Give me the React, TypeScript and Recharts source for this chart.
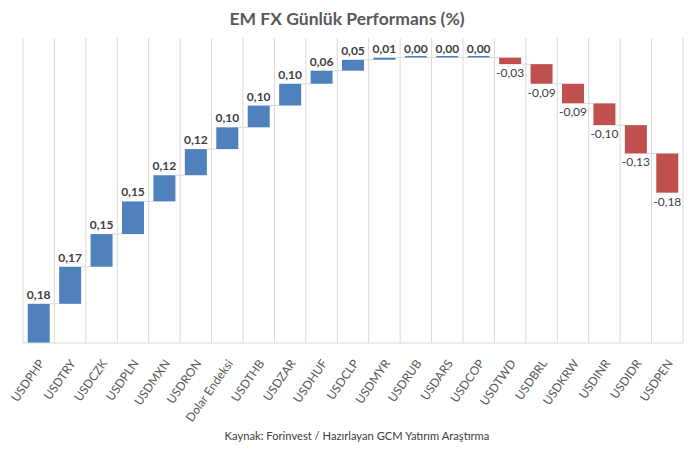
import React from 'react';
import { BarChart, Bar, XAxis, YAxis, CartesianGrid, LabelList } from 'recharts';

const categories = [
  'USDPHP', 'USDTRY', 'USDCZK', 'USDPLN', 'USDMXN', 'USDRON', 'Dolar Endeksi',
  'USDTHB', 'USDZAR', 'USDHUF', 'USDCLP', 'USDMYR', 'USDRUB', 'USDARS',
  'USDCOP', 'USDTWD', 'USDBRL', 'USDKRW', 'USDINR', 'USDIDR', 'USDPEN',
];
const values = [
  0.18, 0.17, 0.15, 0.15, 0.12, 0.12, 0.10, 0.10, 0.10, 0.06, 0.05, 0.01,
  0.0, 0.0, 0.0, -0.03, -0.09, -0.09, -0.10, -0.13, -0.18,
];
const yTicks = [0, 0.2, 0.4, 0.6, 0.8, 1.0, 1.2, 1.4];

const BLUE = '#4F81BD';
const RED = '#C0504D';
const GRID = '#D9D9D9';
const FONT = 'Lato, "Open Sans", sans-serif';

// waterfall: invisible base + visible step
let running = 0;
const data = categories.map((name, i) => {
  const v = values[i];
  const base = v >= 0 ? running : running + v;
  running += v;
  return { name, value: v, base, delta: Math.abs(v) };
});

const fmt = (v: number) => v.toFixed(2).replace('.', ',');

const StepBar = (props: any) => {
  const { x, y, width, height, index } = props;
  const v = values[index];
  const h = Math.max(height, 1.6);
  const ry = v >= 0 ? y + height - h : y;
  const gap = (width * 0.3) / 0.7;
  const level = v >= 0 ? y : y + height;
  return (
    <g>
      <rect x={x} y={ry} width={width} height={h} fill={v >= 0 ? BLUE : RED} />
      {index < values.length - 1 && (
        <line x1={x + width} x2={x + width + gap} y1={level} y2={level} stroke={GRID} strokeWidth={1} />
      )}
    </g>
  );
};

const StepLabel = (props: any) => {
  const { x, y, width, height, index } = props;
  const v = values[index];
  const cx = x + width / 2;
  if (v >= 0) {
    return (
      <text x={cx} y={y - 5} textAnchor="middle" fontSize={12} fontWeight={700} fill="#404040" fontFamily={FONT}>
        {fmt(v)}
      </text>
    );
  }
  return (
    <text x={cx} y={y + height + 13} textAnchor="middle" fontSize={12} fill="#404040" fontFamily={FONT}>
      {fmt(v)}
    </text>
  );
};

const AxisTick = (props: any) => {
  const { x, y, payload } = props;
  const ax = x + 3;
  const ay = y + 10;
  return (
    <text
      x={ax}
      y={ay}
      dy={4}
      textAnchor="end"
      transform={`rotate(-55 ${ax} ${ay})`}
      fontSize={12}
      fill="#595959"
      fontFamily={FONT}
    >
      {payload.value}
    </text>
  );
};

export default function App() {
  return (
    <div style={{ position: 'relative', width: 694, height: 455, margin: -8, background: '#fff', fontFamily: FONT }}>
      <div
        style={{
          position: 'absolute', left: 4, top: 4, width: 686, height: 446,
          border: `1px solid ${GRID}`,
        }}
      />
      <div
        style={{
          position: 'absolute', left: 0, top: 8, width: 694, textAlign: 'center',
          fontSize: 17.5, fontWeight: 700, color: '#595959',
        }}
      >
        EM FX Günlük Performans (%)
      </div>
      <div style={{ position: 'absolute', left: 0, top: 0 }}>
        <BarChart width={694} height={455} data={data} margin={{ top: 38, right: 11, left: 23, bottom: 0 }} barCategoryGap="15%">
          <CartesianGrid
            horizontal={false}
            stroke={GRID}
            verticalCoordinatesGenerator={({ offset }: any) =>
              categories.concat(['']).map((_, i) => offset.left + (i * offset.width) / categories.length)
            }
          />
          <XAxis
            dataKey="name"
            interval={0}
            tickLine={false}
            axisLine={{ stroke: GRID }}
            height={112}
            tick={<AxisTick />}
          />
          <YAxis hide domain={[0, 1.4]} ticks={yTicks} />
          <Bar dataKey="base" stackId="w" fill="transparent" isAnimationActive={false} />
          <Bar dataKey="delta" stackId="w" shape={<StepBar />} isAnimationActive={false}>
            <LabelList dataKey="delta" content={<StepLabel />} />
          </Bar>
        </BarChart>
      </div>
      <div
        style={{
          position: 'absolute', left: 0, top: 429, width: 714, textAlign: 'center',
          fontSize: 11.2, color: '#404040',
        }}
      >
        Kaynak: Forinvest / Hazırlayan GCM Yatırım Araştırma
      </div>
    </div>
  );
}
